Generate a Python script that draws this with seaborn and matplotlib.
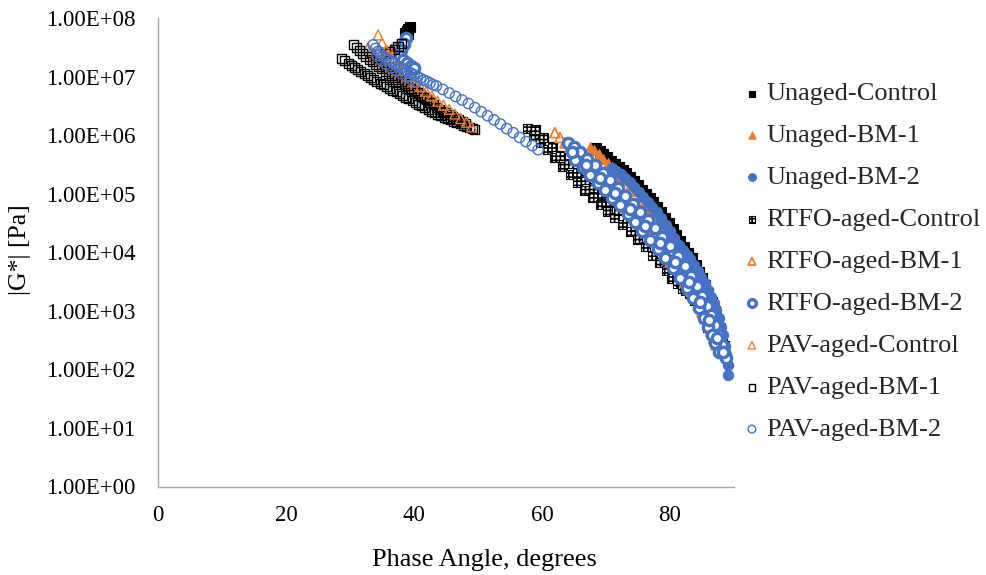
import matplotlib
matplotlib.use("Agg")
import matplotlib.pyplot as plt
from matplotlib.ticker import FuncFormatter, FixedLocator, NullLocator
import seaborn as sns

# ---------------- data (phase angle in degrees, |G*| in Pa) ----------------
unaged_control_x = [38.6, 38.9, 39.1, 39.3, 39.0,
                    68.4, 69.0, 69.6, 70.2, 70.8, 71.4, 72.0, 72.6, 73.2, 73.8, 74.4, 75.0, 75.6,
                    76.2, 76.8, 77.4, 78.0, 78.6, 79.2, 79.8, 80.4, 81.0, 81.6, 82.2, 82.8, 83.4,
                    84.0, 84.5, 85.0, 85.5, 86.0, 86.5, 87.0, 87.4, 87.8, 88.1, 88.4, 88.6]
unaged_control_g = [5.50e7, 6.03e7, 6.46e7, 6.92e7, 5.25e7,
                    6.03e5, 5.37e5, 4.68e5, 4.17e5, 3.63e5, 3.24e5, 2.88e5, 2.51e5, 2.24e5, 1.91e5,
                    1.62e5, 1.38e5, 1.17e5, 1.00e5, 8.32e4, 7.08e4, 5.89e4, 4.79e4, 3.89e4, 3.16e4,
                    2.51e4, 2.00e4, 1.55e4, 1.23e4, 9.77e3, 7.94e3, 6.03e3, 4.68e3, 3.63e3, 2.75e3,
                    2.00e3, 1.41e3, 1.00e3, 708, 501, 355, 251, 178]

unaged_bm1_x = [67.5, 68.2, 68.9, 69.6, 70.3, 71.0, 71.7, 72.4, 73.1, 73.8, 74.5, 75.2, 75.9, 76.6,
                77.3, 78.0, 78.7, 79.4, 80.1, 80.8, 81.5, 82.2, 82.9, 83.5, 84.1, 84.7, 85.3, 85.9,
                86.5, 87.0, 87.5, 88.0]
unaged_bm1_g = [6.31e5, 5.50e5, 4.68e5, 3.98e5, 3.39e5, 2.88e5, 2.45e5, 2.04e5, 1.70e5, 1.38e5,
                1.10e5, 8.91e4, 7.08e4, 5.75e4, 4.57e4, 3.63e4, 2.88e4, 2.29e4, 1.78e4, 1.41e4,
                1.12e4, 8.51e3, 6.46e3, 4.90e3, 3.63e3, 2.69e3, 1.95e3, 1.41e3, 1.00e3, 692, 468, 302]

unaged_bm2_x = [70.9, 71.6, 72.3, 73.0, 73.7, 74.4, 75.1, 75.8, 76.5, 77.2, 77.9, 78.6, 79.3, 80.0,
                80.7, 81.4, 82.0, 82.6, 83.2, 83.8, 84.4, 84.9, 85.4, 85.9, 86.4, 86.8, 87.2, 87.6,
                88.0, 88.3, 88.6, 88.8, 89.0, 89.1]
unaged_bm2_g = [2.75e5, 2.45e5, 2.14e5, 1.86e5, 1.58e5, 1.32e5, 1.07e5, 8.91e4, 7.24e4, 6.03e4,
                4.79e4, 3.80e4, 2.95e4, 2.29e4, 1.74e4, 1.35e4, 1.10e4, 9.12e3, 7.59e3, 6.17e3,
                4.79e3, 3.72e3, 2.95e3, 2.29e3, 1.74e3, 1.35e3, 1.02e3, 759, 537, 380, 251, 178,
                120, 79.4]

rtfo_control_x = [57.8, 58.7, 59.7, 60.9, 62.0, 63.2, 64.4, 65.6, 66.7, 67.9, 69.1, 70.2, 71.4, 72.6,
                  73.8, 74.9, 76.1, 77.3, 78.4, 79.4, 80.3, 81.1, 81.9, 82.5, 83.1, 83.8, 84.4, 84.9,
                  85.3, 85.9,
                  59.0, 60.3, 61.6, 62.9, 64.2, 65.5, 66.8, 68.1, 69.4, 70.7, 72.0, 73.3, 74.6, 75.9,
                  77.2, 78.5, 79.8, 81.1, 82.3, 83.4, 84.4, 85.2]
rtfo_control_g = [1.32e6, 1.00e6, 7.59e5, 5.62e5, 4.07e5, 2.88e5, 2.09e5, 1.55e5, 1.15e5, 8.71e4,
                  6.61e4, 5.01e4, 3.89e4, 2.95e4, 2.24e4, 1.66e4, 1.23e4, 8.91e3, 6.61e3, 4.90e3,
                  3.63e3, 2.95e3, 2.45e3, 2.19e3, 1.95e3, 1.51e3, 1.17e3, 933, 759, 525,
                  1.26e6, 9.12e5, 6.46e5, 4.57e5, 3.24e5, 2.34e5, 1.74e5, 1.29e5, 9.55e4, 7.08e4,
                  5.25e4, 3.89e4, 2.88e4, 2.14e4, 1.55e4, 1.10e4, 7.59e3, 5.25e3, 3.63e3, 2.51e3,
                  1.66e3, 1.07e3]

rtfo_bm1_x = [35.8, 36.5, 37.2,
              32.8, 33.3, 33.8, 34.3, 34.8, 35.3, 35.8, 36.3, 36.8, 37.3, 37.8, 38.3, 38.8, 39.3,
              39.8, 40.3, 40.8, 41.3, 41.8, 42.3, 42.8, 43.3,
              62.0, 62.8, 63.6, 64.4, 65.2, 65.9, 66.7, 67.5, 68.3, 69.1, 69.8, 70.6, 71.4, 72.2,
              73.0, 73.8, 74.5, 75.3, 76.1, 76.9, 77.7, 78.5, 79.2, 80.0, 80.8, 81.5, 82.3, 83.0,
              83.7, 84.4, 85.0, 85.5, 85.9, 86.4, 86.8, 87.2]
rtfo_bm1_g = [2.63e7, 2.88e7, 3.16e7,
              3.09e7, 2.69e7, 2.34e7, 2.04e7, 1.82e7, 1.62e7, 1.45e7, 1.32e7, 1.20e7, 1.10e7,
              1.00e7, 9.12e6, 8.32e6, 7.59e6, 6.92e6, 6.31e6, 5.75e6, 5.25e6, 4.79e6, 4.37e6,
              3.98e6, 3.63e6,
              1.10e6, 9.12e5, 7.41e5, 6.17e5, 5.01e5, 4.07e5, 3.31e5, 2.75e5, 2.24e5, 1.78e5,
              1.45e5, 1.15e5, 9.12e4, 7.41e4, 5.89e4, 4.68e4, 3.80e4, 3.02e4, 2.40e4, 1.91e4,
              1.51e4, 1.17e4, 8.91e3, 6.76e3, 5.25e3, 4.07e3, 3.09e3, 2.29e3, 1.70e3, 1.26e3,
              955, 741, 575, 447, 339, 263]

rtfo_bm2_x = [38.75, 38.4, 37.97, 37.8, 38.3, 38.9, 39.5, 40.0,
              64.1, 65.0, 65.9, 67.1, 68.3, 69.5, 70.6, 71.8, 73.0, 74.2, 75.3, 76.5, 77.7, 78.8,
              80.0, 81.2, 82.3, 83.3, 84.2, 85.0, 85.8, 86.4, 87.0, 87.6, 88.1, 88.5, 88.8,
              65.2, 66.4, 67.5, 68.7, 69.8, 71.0, 72.2, 73.4, 74.5, 75.7, 76.9, 78.1, 79.2, 80.4,
              81.6, 82.6, 83.6, 84.5, 85.3, 86.0, 86.6, 87.1, 87.7,
              64.7, 66.9, 69.1, 71.4, 73.8, 76.1, 78.4, 80.8, 83.0, 84.7, 86.1, 87.3, 88.3]
rtfo_bm2_g = [4.57e7, 3.63e7, 2.82e7, 2.24e7, 1.91e7, 1.70e7, 1.51e7, 1.41e7,
              7.41e5, 6.17e5, 5.13e5, 3.98e5, 3.09e5, 2.29e5, 1.70e5, 1.26e5, 9.12e4, 6.61e4,
              4.90e4, 3.55e4, 2.57e4, 1.82e4, 1.29e4, 8.71e3, 5.89e3, 3.98e3, 2.63e3, 1.78e3,
              1.20e3, 832, 575, 389, 263, 200, 155,
              3.80e5, 2.82e5, 2.09e5, 1.55e5, 1.15e5, 8.51e4, 6.46e4, 4.57e4, 3.31e4, 2.29e4,
              1.62e4, 1.15e4, 7.94e3, 5.37e3, 3.63e3, 2.45e3, 1.66e3, 1.12e3, 759, 537, 389,
              282, 200,
              5.15e5, 3.09e5, 1.85e5, 1.03e5, 5.47e4, 2.81e4, 1.44e4, 6.81e3, 3.10e3, 1.41e3,
              697, 344, 198]

pav_control_x = [34.4, 35.0, 35.7, 36.5, 37.4, 38.3, 39.2, 40.1, 41.0, 41.9, 42.8, 43.7, 44.6,
                 45.5, 46.4, 47.3, 48.2, 49.0]
pav_control_g = [5.13e7, 3.80e7, 2.82e7, 2.14e7, 1.62e7, 1.26e7, 1.00e7, 8.13e6, 6.76e6, 5.62e6,
                 4.68e6, 3.80e6, 3.24e6, 2.75e6, 2.29e6, 1.91e6, 1.66e6, 1.38e6]

pav_bm1_x = [28.7, 29.2, 29.7, 30.2, 30.7, 31.2, 31.7, 32.2, 32.7, 33.2, 33.7, 34.2, 34.7, 35.2,
             35.7, 36.2, 36.7, 37.2, 37.7, 38.2, 38.7, 39.2, 39.7, 40.2, 40.7, 41.2, 41.7, 42.2,
             42.7, 43.2, 43.7, 44.2, 44.7, 45.2, 45.7, 46.2, 46.7, 47.2, 47.7, 48.2, 48.7, 49.2,
             49.5,
             30.5, 31.0, 31.5, 32.0, 32.5, 33.0, 33.5, 34.0, 34.5, 35.0, 35.5, 36.0, 36.5, 37.0,
             37.5, 38.0, 38.5, 39.0, 39.5, 40.0, 40.5, 41.0, 41.5, 42.0, 42.5, 43.0, 43.5, 44.0,
             44.5, 45.0, 45.5, 46.0, 46.5, 47.0, 47.5, 48.0,
             35.5, 36.2, 36.9, 37.5, 38.0]
pav_bm1_g = [2.04e7, 1.86e7, 1.70e7, 1.55e7, 1.45e7, 1.32e7, 1.23e7, 1.12e7, 1.05e7, 9.55e6,
             8.91e6, 8.32e6, 7.76e6, 7.24e6, 6.76e6, 6.31e6, 5.89e6, 5.50e6, 5.13e6, 4.79e6,
             4.47e6, 4.17e6, 3.89e6, 3.63e6, 3.39e6, 3.16e6, 2.95e6, 2.75e6, 2.57e6, 2.40e6,
             2.24e6, 2.14e6, 2.00e6, 1.91e6, 1.82e6, 1.74e6, 1.66e6, 1.58e6, 1.48e6, 1.41e6,
             1.35e6, 1.29e6, 1.23e6,
             3.47e7, 3.09e7, 2.75e7, 2.45e7, 2.19e7, 1.95e7, 1.78e7, 1.62e7, 1.48e7, 1.35e7,
             1.23e7, 1.15e7, 1.05e7, 9.77e6, 8.91e6, 8.32e6, 7.59e6, 6.92e6, 6.31e6, 5.75e6,
             5.25e6, 4.79e6, 4.37e6, 3.98e6, 3.63e6, 3.31e6, 3.02e6, 2.75e6, 2.57e6, 2.40e6,
             2.24e6, 2.09e6, 1.95e6, 1.82e6, 1.70e6, 1.58e6,
             2.51e7, 2.69e7, 2.95e7, 3.24e7, 3.63e7]

pav_bm2_x = [33.6, 34.0, 34.4, 34.8, 35.2, 35.6, 36.0, 36.5, 37.0, 37.5, 38.0, 38.5, 39.0, 39.5,
             40.0, 40.5, 41.0, 41.5, 42.0, 42.5, 43.0, 43.5, 44.5, 45.5, 46.5, 47.5, 48.5, 49.5,
             50.5, 51.5, 52.5, 53.5, 54.5, 55.5, 56.5, 57.5, 58.5, 59.4,
             34.2, 34.9, 35.6, 36.4, 37.2, 38.0, 38.8, 39.6, 40.4]
pav_bm2_g = [3.47e7, 3.02e7, 2.69e7, 2.45e7, 2.24e7, 2.04e7, 1.91e7, 1.78e7, 1.66e7, 1.51e7,
             1.41e7, 1.32e7, 1.23e7, 1.15e7, 1.07e7, 1.00e7, 9.33e6, 8.71e6, 8.32e6, 7.76e6,
             7.24e6, 6.92e6, 6.03e6, 5.25e6, 4.57e6, 3.98e6, 3.47e6, 2.95e6, 2.51e6, 2.14e6,
             1.82e6, 1.55e6, 1.29e6, 1.10e6, 9.12e5, 7.76e5, 6.61e5, 5.62e5,
             2.29e7, 1.91e7, 1.62e7, 1.41e7, 1.26e7, 1.12e7, 1.00e7, 8.91e6, 8.13e6]

x_ticks = [0, 20, 40, 60, 80]
y_ticks = [1e0, 1e1, 1e2, 1e3, 1e4, 1e5, 1e6, 1e7, 1e8]

BLACK = "#000000"
ORANGE = "#ED7D31"
BLUE = "#4472C4"
AXIS_GREY = "#A6A6A6"

# ---------------- styling ----------------
sns.set_style("white")
plt.rcParams["font.family"] = ["Liberation Serif", "DejaVu Serif"]
plt.rcParams["hatch.linewidth"] = 1.2
plt.rcParams["hatch.color"] = "black"

fig = plt.figure(figsize=(9.87, 5.75), dpi=100)
ax = fig.add_axes([158 / 987, 1 - 486.5 / 575, 576 / 987, 468.5 / 575])

# (label, x, y, zorder, style)
series = [
    ("Unaged-Control", unaged_control_x, unaged_control_g, 2,
     dict(marker="s", s=42, facecolor=BLACK, edgecolor=BLACK, linewidth=0.8)),
    ("Unaged-BM-1", unaged_bm1_x, unaged_bm1_g, 3,
     dict(marker="^", s=50, facecolor=ORANGE, edgecolor=ORANGE, linewidth=0.8)),
    ("Unaged-BM-2", unaged_bm2_x, unaged_bm2_g, 4,
     dict(marker="o", s=55, facecolor=BLUE, edgecolor=BLUE, linewidth=0.8)),
    ("RTFO-aged-Control", rtfo_control_x, rtfo_control_g, 5,
     dict(marker="s", s=42, facecolor="white", edgecolor=BLACK, linewidth=0.8, hatch="++++")),
    ("RTFO-aged-BM-1", rtfo_bm1_x, rtfo_bm1_g, 6,
     dict(marker="^", s=50, facecolor="none", edgecolor=ORANGE, linewidth=1.3)),
    ("RTFO-aged-BM-2", rtfo_bm2_x, rtfo_bm2_g, 7,
     dict(marker="o", s=55, facecolor="white", edgecolor=BLUE, linewidth=2.4)),
    ("PAV-aged-Control", pav_control_x, pav_control_g, 9,
     dict(marker="^", s=50, facecolor="none", edgecolor=ORANGE, linewidth=1.0)),
    ("PAV-aged-BM-1", pav_bm1_x, pav_bm1_g, 8,
     dict(marker="s", s=42, facecolor="none", edgecolor=BLACK, linewidth=1.0)),
    ("PAV-aged-BM-2", pav_bm2_x, pav_bm2_g, 10,
     dict(marker="o", s=55, facecolor="none", edgecolor=BLUE, linewidth=1.0)),
]

for name, xs, gs, z, kw in series:
    sns.scatterplot(x=xs, y=gs, ax=ax, label=name, zorder=z, **kw)

ax.set_yscale("log")
ax.set_xlim(0, 90)
ax.set_ylim(1e0, 1e8)
ax.xaxis.set_major_locator(FixedLocator(x_ticks))
ax.yaxis.set_major_locator(FixedLocator(y_ticks))
ax.yaxis.set_minor_locator(NullLocator())
ax.yaxis.set_major_formatter(FuncFormatter(lambda v, p: f"{v:.2E}"))

for side in ["top", "right"]:
    ax.spines[side].set_visible(False)
for side in ["left", "bottom"]:
    ax.spines[side].set_color(AXIS_GREY)
    ax.spines[side].set_linewidth(1.0)
ax.grid(False)
ax.tick_params(axis="both", which="major", direction="out", length=6, width=1.0,
               color=AXIS_GREY, labelsize=16.5, labelcolor="black")
ax.tick_params(axis="y", pad=10)
ax.tick_params(axis="x", pad=7)

ax.set_xlabel("Phase Angle, degrees", fontsize=19, color="black")
ax.xaxis.set_label_coords((484 - 158) / 576, -(560 - 486.5) / 468.5)
ax.xaxis.label.set_va("center")
ax.set_ylabel("|G*| [Pa]", fontsize=18.5, color="black")
ax.yaxis.set_label_coords((20 - 158) / 576, (486.5 - 250) / 468.5)
ax.yaxis.label.set_va("center")

handles, labels = ax.get_legend_handles_labels()
ax.get_legend().remove()
fig.legend(handles, labels, loc="upper left", bbox_to_anchor=(744 / 987, 1 - 82 / 575),
           frameon=False, fontsize=19, markerscale=0.75, handlelength=0.6,
           handletextpad=0.25, labelspacing=0.70, borderpad=0, borderaxespad=0)

fig.savefig("out.png", dpi=100)
